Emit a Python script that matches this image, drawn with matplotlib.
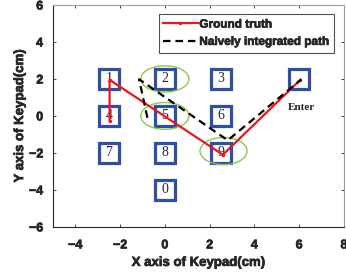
import numpy as np
import matplotlib
matplotlib.use('Agg')
import matplotlib.pyplot as plt
import matplotlib.patheffects as pe
from matplotlib.patches import Ellipse

# keypad layout
key_labels = ['1', '2', '3', '4', '5', '6', '7', '8', '9', '0', '']
key_x = [-2.5, 0, 2.5, -2.5, 0, 2.5, -2.5, 0, 2.5, 0, 6]
key_y = [2, 2, 2, 0, 0, 0, -2, -2, -2, -4, 2]

# paths
truth_x = [-2.47, -2.47, 2.59, 6.05]
truth_y = [-0.25, 1.95, -2.1, 1.95]
naive_x = [-0.78, -1.15, 2.81, 6.1]
naive_y = [-0.1, 1.98, -1.32, 1.98]

# highlighted keys (ellipses)
ell_x = [0, 0, 2.62]
ell_y = [2.0, 0.0, -1.9]
ell_w = [2.15, 2.15, 2.1]
ell_h = [1.42, 1.45, 1.47]

txt = '#262626'
heavy = [pe.withStroke(linewidth=0.5, foreground=txt)]
plt.rcParams['font.family'] = ['Liberation Sans', 'DejaVu Sans']
plt.rcParams['font.weight'] = 'bold'

fig = plt.figure(figsize=(3.46, 2.76), dpi=100)
ax = fig.add_axes([0.153, 0.178, 0.841, 0.804])

for xc, yc, w, h in zip(ell_x, ell_y, ell_w, ell_h):
  ax.add_patch(Ellipse((xc, yc), w, h, fill=False, ec='#8cc84b', lw=1.0, zorder=2))

ax.plot(key_x, key_y, 's', ms=14, mfc='white', mec='#2e4fa3', mew=2.3, ls='none', zorder=1)
for lab, xk, yk in zip(key_labels, key_x, key_y):
  ax.text(xk, yk, lab, ha='center', va='center', fontsize=10, fontweight='normal',
          family=['Liberation Serif'], color=txt, zorder=1.5)
ax.text(6.1, 0.45, 'Enter', ha='center', va='center', fontsize=8,
        family=['Liberation Serif'], fontweight='bold', color=txt)

ax.plot(truth_x, truth_y, color='#f0141e', lw=1.6, marker='.', ms=3, label='Ground truth', zorder=3)
ax.plot(naive_x, naive_y, color='black', lw=1.6, ls=(0, (3.4, 2.2)), label='Naively integrated path', zorder=3)

ax.set_xlim(-5, 8)
ax.set_ylim(-6, 6)
ax.set_xticks(np.arange(-4, 9, 2))
ax.set_yticks(np.arange(-6, 7, 2))
ax.tick_params(direction='in', length=2.5, width=0.6, top=True, right=True,
               labelsize=9, colors=txt)
ax.tick_params(axis='x', pad=9)
ax.tick_params(axis='y', pad=7)
for lbl in ax.get_xticklabels() + ax.get_yticklabels():
  lbl.set_fontweight('bold')
  lbl.set_path_effects(heavy)
for side in ['left', 'bottom']:
  ax.spines[side].set_color(txt)
  ax.spines[side].set_linewidth(0.8)
for side in ['top', 'right']:
  ax.spines[side].set_color('#a0a0a0')
  ax.spines[side].set_linewidth(0.8)

xl = ax.set_xlabel('X axis of Keypad(cm)', fontsize=9.5, fontweight='bold', color=txt, labelpad=4)
yl = ax.set_ylabel('Y axis of Keypad(cm)', fontsize=9.5, fontweight='bold', color=txt, labelpad=2)
xl.set_path_effects(heavy)
yl.set_path_effects(heavy)

leg = ax.legend(loc='upper right', bbox_to_anchor=(0.966, 0.96),
                prop={'family': ['Liberation Sans'], 'weight': 'bold', 'size': 8.5},
                frameon=True, fancybox=False,
                handlelength=2.9, handletextpad=0.15, borderpad=0.4, labelspacing=0.45,
                borderaxespad=0)
leg.get_frame().set_edgecolor(txt)
leg.get_frame().set_linewidth(0.8)
for t in leg.get_texts():
  t.set_color(txt)
  t.set_path_effects(heavy)

fig.savefig('out.png', dpi=100)
